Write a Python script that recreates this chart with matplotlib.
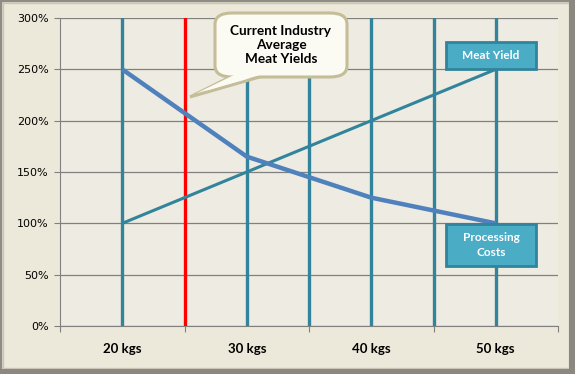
import matplotlib
matplotlib.use("Agg")
from matplotlib import pyplot as plt
from matplotlib.patches import Rectangle, FancyBboxPatch, Polygon
from matplotlib.ticker import FixedLocator, PercentFormatter

# data
weights = [20, 30, 40, 50]
weight_labels = ["20 kgs", "30 kgs", "40 kgs", "50 kgs"]
processing_costs = [250, 165, 125, 100]
meat_yield = [100, 150, 200, 250]
drop_lines = [20, 30, 35, 40, 45, 50]
industry_average = 25

W, H = 575, 374


def fx(x):
    return x / W


def fy(y):
    return 1 - y / H


fig = plt.figure(figsize=(W / 100, H / 100), dpi=100)
fig.patch.set_facecolor("#E9E5D3")

# outer frame with shadow
fig.patches.append(Rectangle((0, 0), 1, 1, transform=fig.transFigure,
                             fc="none", ec="#8E8C84", lw=2.5, zorder=-3))
fig.patches.append(Rectangle((fx(3), fy(368)), fx(566), 365 / H, transform=fig.transFigure,
                             fc="#ECE9DA", ec="#C9C6B8", lw=1, zorder=-3))
fig.patches.append(Rectangle((fx(569), 0), fx(6), 1, transform=fig.transFigure,
                             fc="#8A8880", ec="none", zorder=-3))
fig.patches.append(Rectangle((0, 0), 1, 5 / H, transform=fig.transFigure,
                             fc="#8A8880", ec="none", zorder=-3))

ax = fig.add_axes([fx(60), fy(326), fx(498), 308 / H])
ax.set_facecolor("#EEEBE2")

ax.set_xlim(15, 55)
ax.set_ylim(0, 300)

for x in drop_lines:
    ax.axvline(x, color="#31849B", lw=2.4, zorder=2)
ax.axvline(industry_average, color="#FF0000", lw=2.4, zorder=2)

ax.plot(weights, meat_yield, color="#31849B", lw=2.2, zorder=3, solid_capstyle="butt")
ax.plot(weights, processing_costs, color="#4F81BD", lw=3.2, zorder=4, solid_capstyle="butt")

ax.set_yticks(range(0, 301, 50))
ax.yaxis.set_major_formatter(PercentFormatter(decimals=0))
ax.grid(axis="y", color="#808080", lw=0.9, zorder=1)
ax.set_axisbelow(True)

ax.xaxis.set_major_locator(FixedLocator([15, 25, 35, 45, 55]))
ax.set_xticklabels([])
ax.set_xticks(weights, minor=True)
ax.set_xticklabels(weight_labels, minor=True, fontsize=9.5, fontweight="bold", family="Lato")
ax.tick_params(axis="x", which="minor", length=0, pad=12)
ax.tick_params(axis="x", which="major", length=4, color="#808080")
ax.tick_params(axis="y", length=4, color="#808080", labelsize=8, pad=4)

for side in ["top", "right"]:
    ax.spines[side].set_visible(False)
for side in ["left", "bottom"]:
    ax.spines[side].set_color("#808080")

# callout
tail = [(fx(236), fy(74)), (fx(190), fy(97)), (fx(270), fy(74))]
fig.patches.append(Polygon(tail, closed=True, transform=fig.transFigure,
                           fc="#FBFAF3", ec="#C4BD97", lw=2.2, zorder=5))
fig.patches.append(FancyBboxPatch((fx(215), fy(77)), fx(132), 64 / H,
                                  boxstyle="round,pad=0,rounding_size=0.03",
                                  transform=fig.transFigure, fc="#FBFAF3", ec="#C4BD97",
                                  lw=2.2, zorder=6))
fig.patches.append(Polygon([(fx(238), fy(73)), (fx(196), fy(93.5)), (fx(267), fy(73))],
                           closed=True, transform=fig.transFigure,
                           fc="#FBFAF3", ec="none", zorder=7))
fig.text(fx(281), fy(45), "Current Industry\nAverage\nMeat Yields", ha="center", va="center",
         fontsize=9.8, fontweight="bold", family="Lato", linespacing=1.2, zorder=8)

# series labels
for label, (x0, y0, x1, y1) in [("Meat Yield", (446, 42, 536, 69)),
                                ("Processing\nCosts", (446, 224, 536, 266))]:
    fig.patches.append(Rectangle((fx(x0), fy(y1)), fx(x1 - x0), (y1 - y0) / H,
                                 transform=fig.transFigure, fc="#4BACC6", ec="#31849B",
                                 lw=2, zorder=6))
    fig.text(fx((x0 + x1) / 2), fy((y0 + y1) / 2), label, ha="center", va="center",
             color="white", fontsize=8.5, fontweight="bold", family="Lato",
             linespacing=1.4, zorder=8)

fig.savefig("out.png", dpi=100, facecolor=fig.get_facecolor())
